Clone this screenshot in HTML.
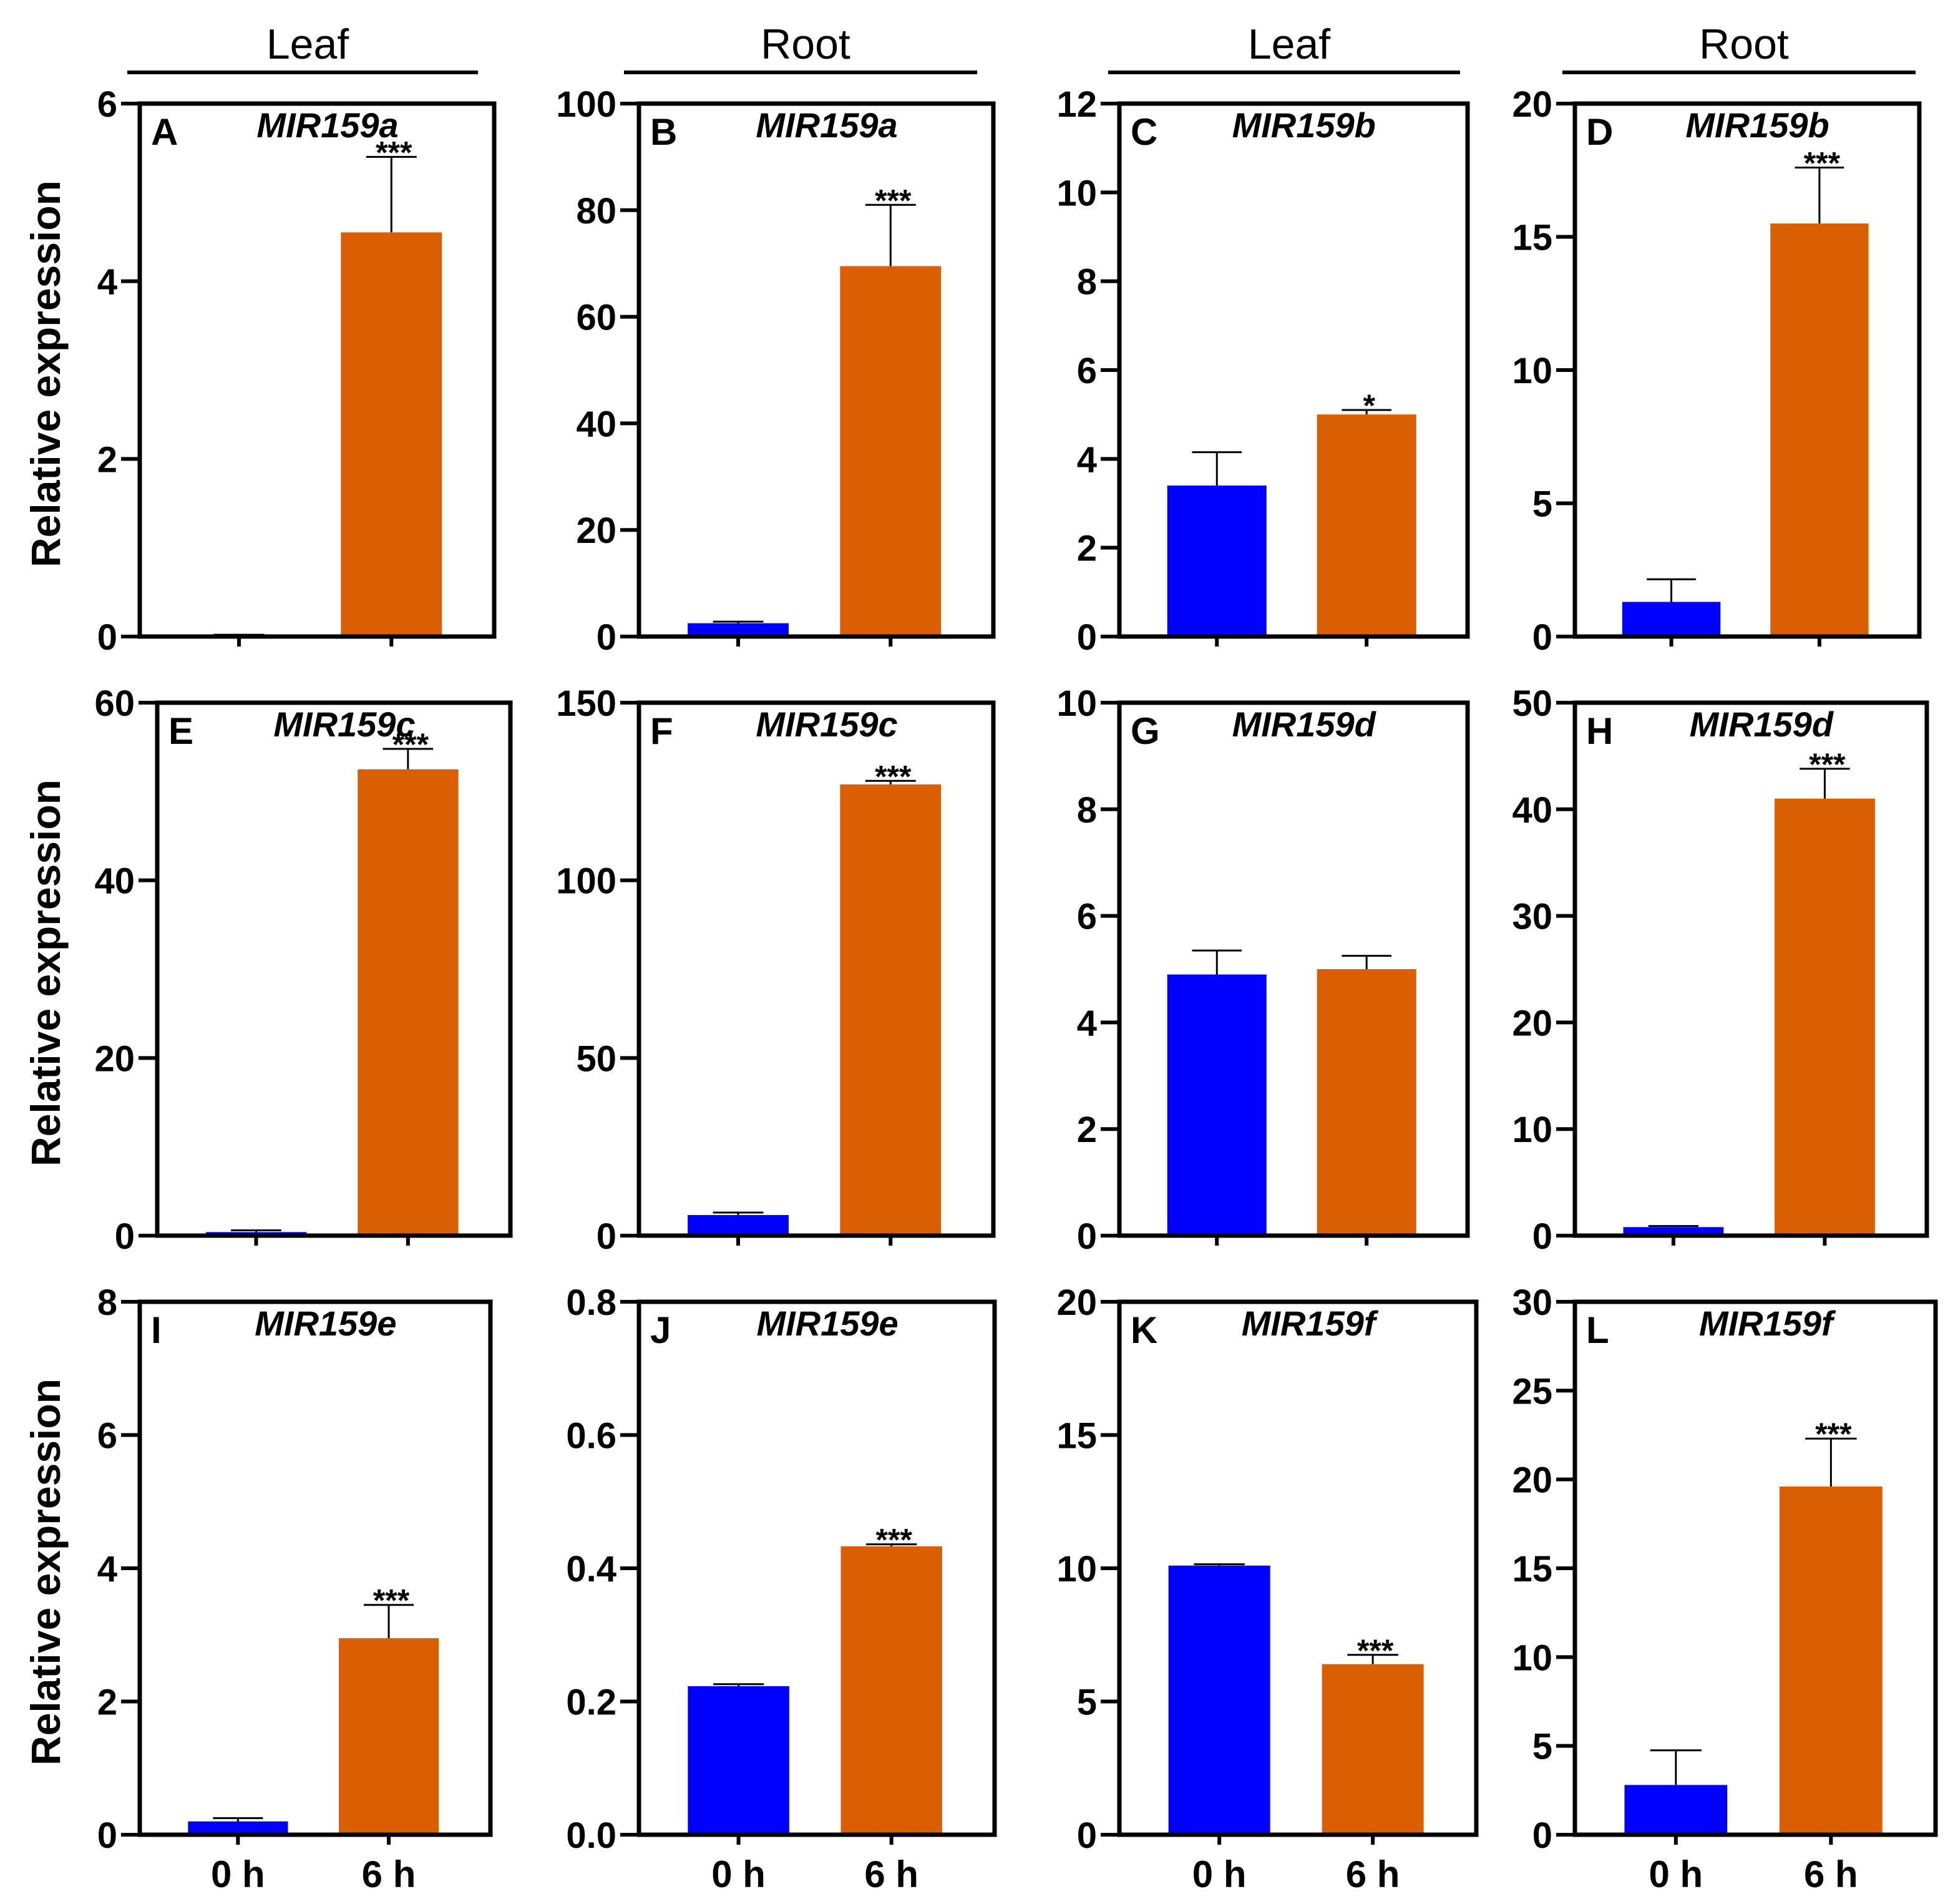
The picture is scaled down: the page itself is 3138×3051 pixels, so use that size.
<!DOCTYPE html>
<html><head><meta charset="utf-8"><style>
html,body{margin:0;padding:0;background:#fff;}
svg{display:block;font-family:"Liberation Sans",sans-serif;}
</style></head><body>
<svg id="fig" xmlns="http://www.w3.org/2000/svg" width="3138" height="3051" viewBox="0 0 3138 3051"></svg>
<script>
const panelLetters = ["A","B","C","D","E","F","G","H","I","J","K","L"];
const geneNames = ["MIR159a","MIR159a","MIR159b","MIR159b","MIR159c","MIR159c","MIR159d","MIR159d","MIR159e","MIR159e","MIR159f","MIR159f"];
const categories = ["0 h","6 h"];
const mean0h = [0.02,2.5,3.4,1.3,0.4,5.8,4.9,0.8,0.2,0.223,10.1,2.8];
const err0h = [0,0.3,0.75,0.85,0.2,0.7,0.45,0.1,0.05,0.003,0.05,1.95];
const mean6h = [4.55,69.5,5.0,15.5,52.5,127,5.0,41,2.95,0.433,6.4,19.6];
const err6h = [0.85,11.5,0.1,2.1,2.3,1,0.25,2.8,0.5,0.003,0.35,2.7];
const sigLabels = ["***","***","*","***","***","***","","***","***","***","***","***"];
const yMax = [6,100,12,20,60,150,10,50,8,0.8,20,30];
const yStep = [2,20,2,5,20,50,2,10,2,0.2,5,5];
const headers = ["Leaf","Root","Leaf","Root"];

const boxes = [[224,792],[1024,1592],[1794,2352],[2524,3076],
               [252,818],[1024,1592],[1794,2352],[2524,3088],
               [224,786],[1024,1594],[1794,2366],[2524,3102]];
const rowTop=[166,1126,2086], rowBot=[1020,1980,2940];
const NS="http://www.w3.org/2000/svg";
const svg=document.getElementById('fig');
function mk(tag,attrs,parent){const e=document.createElementNS(NS,tag);for(const k in attrs)e.setAttribute(k,attrs[k]);(parent||svg).appendChild(e);return e;}

const hdrX=[[204,766],[1000,1566],[1776,2340],[2504,3070]];
headers.forEach((h,i)=>{
  const [a,b]=hdrX[i];
  const g=mk('g',{});
  
  
  mk('line',{x1:a,x2:b,y1:116,y2:116,stroke:'#000','stroke-width':6},g);
  const t=mk('text',{x:(a+b)/2+8,y:94,'text-anchor':'middle','font-size':68},g);t.textContent=h;
});
[0,1,2].forEach(r=>{
  const cy=(rowTop[r]+rowBot[r])/2+6;
  const t=mk('text',{x:0,y:0,'text-anchor':'middle','font-size':66,'font-weight':'bold',transform:`translate(96,${cy}) rotate(-90)`});
  
  
  t.textContent='Relative expression';
});

for(let i=0;i<12;i++){
  const r=Math.floor(i/4);
  const [L,R]=boxes[i];const T=rowTop[r],B=rowBot[r];
  const W=R-L;
  const y=v=>B-(v/yMax[i])*(B-T);
  const g=mk('g',{});
  
  
  const bw=0.285*W;
  const cx=[L+0.28*W,L+0.71*W];
  const means=[mean0h[i],mean6h[i]],errs=[err0h[i],err6h[i]],cols=['#0000ff','#d95f02'];
  for(let k=0;k<2;k++){
    const top=y(means[k]+errs[k]);
    const el=mk('line',{x1:cx[k],x2:cx[k],y1:y(means[k]),y2:top,stroke:'#000','stroke-width':3},g);
    
    
    const cap=mk('line',{x1:cx[k]-bw*0.25,x2:cx[k]+bw*0.25,y1:top,y2:top,stroke:'#000','stroke-width':3},g);
    
    
    const rc=mk('rect',{x:cx[k]-bw/2,y:y(means[k]),width:bw,height:B-y(means[k]),fill:cols[k]},g);
    
    
  }
  if(sigLabels[i]){
    const t=mk('text',{x:cx[1]+4,y:y(mean6h[i]+err6h[i])+10,'text-anchor':'middle','font-size':50,'font-weight':'bold'},g);
    
    
    t.textContent=sigLabels[i];
  }
  const bx=mk('rect',{x:L,y:T,width:W,height:B-T,fill:'none',stroke:'#000','stroke-width':7},g);
  
  
  const dec=yStep[i]<1?1:0;
  for(let v=0;v<=yMax[i]+1e-9;v+=yStep[i]){
    const yy=y(v);
    mk('line',{x1:L-30,x2:L,y1:yy,y2:yy,stroke:'#000','stroke-width':6},g);
    const t=mk('text',{x:L-36,y:yy+21,'text-anchor':'end','font-size':58,'font-weight':'bold'},g);
    
    
    t.textContent=v.toFixed(dec);
  }
  for(let k=0;k<2;k++){
    mk('line',{x1:cx[k],x2:cx[k],y1:B,y2:B+16,stroke:'#000','stroke-width':6},g);
    if(r===2){
      const t=mk('text',{x:cx[k],y:B+84,'text-anchor':'middle','font-size':60,'font-weight':'bold'},g);
      
      
      t.textContent=categories[k];
    }
  }
  const lt=mk('text',{x:L+18,y:T+66,'font-size':60,'font-weight':'bold'},g);
  
  
  lt.textContent=panelLetters[i];
  const gt=mk('text',{x:L+0.53*W,y:T+54,'text-anchor':'middle','font-size':56,'font-weight':'bold','font-style':'italic'},g);
  
  
  gt.textContent=geneNames[i];
}
</script>
</body></html>
